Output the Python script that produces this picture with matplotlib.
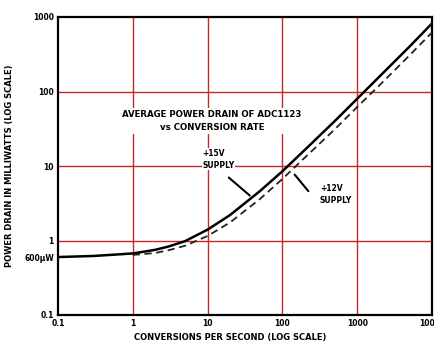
import matplotlib
matplotlib.use("Agg")
import matplotlib.pyplot as plt

# data
rate = [0.1, 0.3, 1, 2, 3, 5, 10, 20, 50, 100, 200, 500, 1000, 2000, 5000, 10000]
p15 = [0.6, 0.62, 0.67, 0.75, 0.83, 0.98, 1.4, 2.2, 4.6, 8.5, 16.5, 40, 80, 160, 400, 820]
rate12 = [1, 2, 3, 5, 10, 20, 50, 100, 200, 500, 1000, 2000, 5000, 10000]
p12 = [0.64, 0.68, 0.74, 0.85, 1.15, 1.75, 3.6, 6.7, 13, 31, 62, 122, 305, 620]
xticks = [0.1, 1, 10, 100, 1000, 10000]
xticklabels = ["0.1", "1", "10", "100", "1000", "10000"]
yticks = [0.1, 0.6, 1, 10, 100, 1000]
yticklabels = ["0.1", "600\u00b5W", "1", "10", "100", "1000"]

red = "#c8282a"
fig = plt.figure(figsize=(4.35, 3.45), dpi=100)
ax = fig.add_axes([58/435, 1-315/345, 374/435, 298/345])
ax.set_xscale("log")
ax.set_yscale("log")
ax.set_xlim(0.1, 10000)
ax.set_ylim(0.1, 1000)

for v in [1, 10, 100, 1000]:
    ax.axvline(v, color=red, lw=1.0, zorder=1)
for v in [1, 10, 100]:
    ax.axhline(v, color=red, lw=1.0, zorder=1)

ax.plot(rate, p15, color="black", lw=1.8, zorder=3)
ax.plot(rate12, p12, color="#222222", lw=1.3, ls=(0, (4, 2.5)), zorder=3)

ax.set_xticks(xticks)
ax.set_xticklabels(xticklabels)
ax.set_yticks(yticks)
ax.set_yticklabels(yticklabels)
ax.minorticks_off()
ax.tick_params(length=0, labelsize=5.5, pad=3)
for lab in ax.get_xticklabels() + ax.get_yticklabels():
    lab.set_fontweight("bold")
for s in ax.spines.values():
    s.set_linewidth(1.6)
    s.set_color("black")

ax.set_xlabel("CONVERSIONS PER SECOND (LOG SCALE)", fontsize=6, fontweight="bold")
ax.xaxis.set_label_coords(0.46, -0.06)
ax.set_ylabel("POWER DRAIN IN MILLIWATTS (LOG SCALE)", fontsize=6, fontweight="bold")
ax.yaxis.set_label_coords(-0.118, 0.5)

ax.text(11.5, 40, "AVERAGE POWER DRAIN OF ADC1123\nvs CONVERSION RATE", fontsize=6.2,
        fontweight="bold", ha="center", va="center", linespacing=1.5, zorder=4,
        bbox=dict(facecolor="white", edgecolor="none", pad=1.5))
ax.text(8.5, 12.3, "+15V\nSUPPLY", fontsize=5.5, fontweight="bold", ha="left", va="center",
        linespacing=1.4, zorder=4, bbox=dict(facecolor="white", edgecolor="none", pad=0.5))
ax.annotate("", xy=(39, 3.8), xytext=(18, 7.4),
            arrowprops=dict(arrowstyle="-", lw=1.5, color="black"))
ax.text(318, 4.1, "+12V\nSUPPLY", fontsize=5.5, fontweight="bold", ha="left", va="center",
        linespacing=1.4, zorder=4)
ax.annotate("", xy=(138, 8.2), xytext=(235, 4.3),
            arrowprops=dict(arrowstyle="-", lw=1.5, color="black"))

fig.savefig("out.png", dpi=100)
